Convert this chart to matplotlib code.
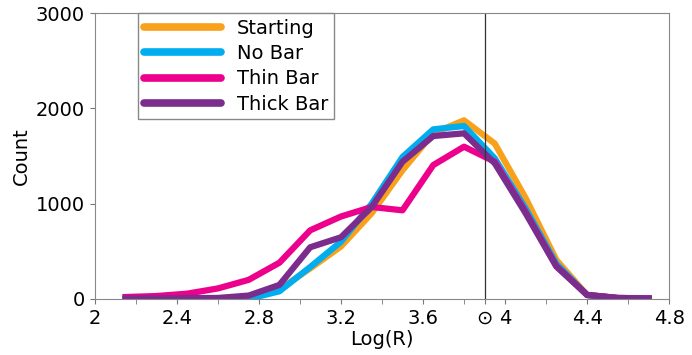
import matplotlib
matplotlib.use("Agg")
import matplotlib.pyplot as plt

log_r = [2.15, 2.30, 2.45, 2.60, 2.75, 2.90, 3.05, 3.20, 3.35, 3.50,
         3.65, 3.80, 3.95, 4.10, 4.25, 4.40, 4.55, 4.70]
starting = [0, 0, 0, 0, 0, 100, 320, 550, 900, 1350,
            1740, 1875, 1630, 1060, 410, 40, 10, 8]
no_bar = [0, 0, 0, 0, 0, 80, 335, 600, 1000, 1490,
          1780, 1815, 1475, 950, 370, 40, 8, 5]
thin_bar = [20, 30, 55, 110, 200, 380, 720, 865, 965, 930,
            1405, 1598, 1440, 915, 345, 42, 10, 5]
thick_bar = [5, 5, 8, 10, 35, 147, 542, 647, 965, 1440,
             1710, 1738, 1423, 900, 340, 42, 10, 5]

sun_x = 3.9
tick_pos = [2, 2.4, 2.8, 3.2, 3.6, sun_x, 4, 4.4, 4.8]
tick_lab = ['2', '2.4', '2.8', '3.2', '3.6', r'$\odot$', '4', '4.4', '4.8']

fig = plt.figure(figsize=(6.92, 3.55), dpi=100)
ax = fig.add_axes([0.137, 0.158, 0.83, 0.805])

lw = 4.5
ax.plot(log_r, starting, color='#f9a11b', lw=lw, label='Starting')
ax.plot(log_r, no_bar, color='#00aeef', lw=lw, label='No Bar')
ax.plot(log_r, thin_bar, color='#ec008c', lw=lw, label='Thin Bar')
ax.plot(log_r, thick_bar, color='#7b2d8e', lw=lw, label='Thick Bar')
ax.axvline(sun_x, color='#333333', lw=0.9)

ax.set_xlim(2, 4.8)
ax.set_ylim(0, 3000)
ax.set_xticks(tick_pos)
ax.set_xticklabels(tick_lab)
ax.set_xticks([2.2, 2.6, 3.0, 3.4, 3.8, 4.2, 4.6], minor=True)
ax.set_yticks([0, 1000, 2000, 3000])
ax.tick_params(labelsize=14, color='#777777', length=3.5)
ax.tick_params(which='minor', color='#777777', length=3.5)
for s in ax.spines.values():
    s.set_color('#888888')

ax.set_xlabel('Log(R)', fontsize=14, labelpad=2)
ax.set_ylabel('Count', fontsize=14)

leg = ax.legend(loc='upper left', bbox_to_anchor=(0.075, 1.0), fontsize=14,
                fancybox=False, edgecolor='#888888', framealpha=1,
                handlelength=4.0, labelspacing=0.32, borderpad=0.3,
                handletextpad=0.8, borderaxespad=0)
for h in leg.get_lines():
    h.set_linewidth(5.5)
    h.set_solid_capstyle('round')

fig.savefig('out.png', dpi=100)
